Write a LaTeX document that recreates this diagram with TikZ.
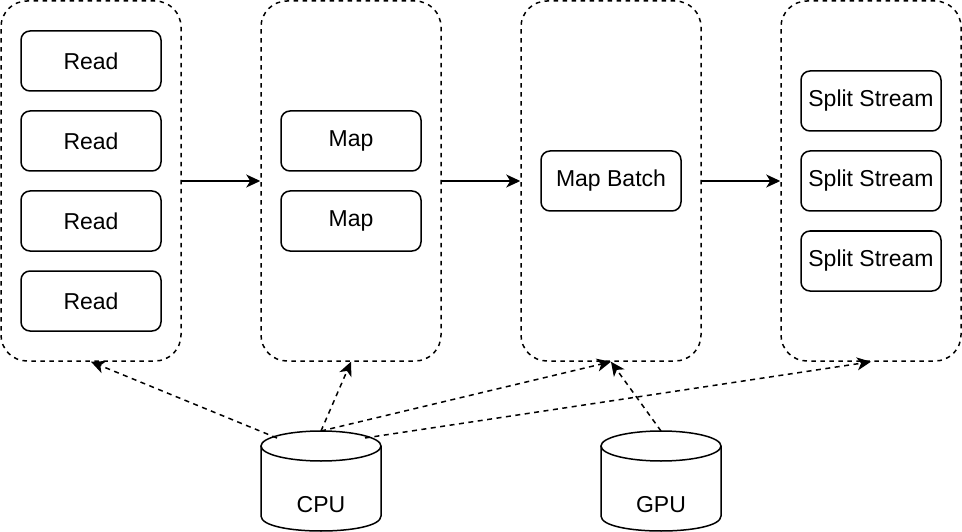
\documentclass[tikz,border=0pt]{standalone}
\usepackage{fontspec}
\setmainfont{Liberation Sans}
\usetikzlibrary{arrows.meta}
\begin{document}
\begin{tikzpicture}[x=1pt,y=-1pt,
  container/.style={draw, line width=1.5pt, dash pattern=on 4.5pt off 4.5pt, rounded corners=26pt, minimum width=180pt, minimum height=360pt, inner sep=0pt},
  proc/.style={draw, line width=1.5pt, rounded corners=9pt, minimum width=140pt, minimum height=60pt, inner sep=0pt, font=\fontsize{23}{27}\selectfont},
  flow/.style={line width=1.5pt, -{Stealth[length=14pt,width=13pt,inset=4pt]}},
  use/.style={line width=1.5pt, dash pattern=on 5pt off 4.5pt, -{Stealth[length=14pt,width=13pt,inset=4pt]}},
  lbl/.style={font=\fontsize{23}{27}\selectfont, inner sep=0pt},
  cyl/.style={line width=1.5pt}
]
\useasboundingbox (0,0) rectangle (962,532);
% containers
\node[container] (c1) at (91,181) {};
\node[container] (c2) at (351,181) {};
\node[container] (c3) at (611,181) {};
\node[container] (c4) at (871,181) {};
% read
\node[proc] (r1) at (91,61) {Read};
\node[proc] (r2) at (91,141) {Read};
\node[proc] (r3) at (91,221) {Read};
\node[proc] (r4) at (91,301) {Read};
% map
\node[proc] (m1) at (351,141) {Map};
\node[proc] (m2) at (351,221) {Map};
% map batch
\node[proc] (mb) at (611,181) {Map Batch};
% split
\node[proc] (s1) at (871,101) {Split Stream};
\node[proc] (s2) at (871,181) {Split Stream};
\node[proc] (s3) at (871,261) {Split Stream};
% flows
\draw[flow] (c1.east) -- (c2.west);
\draw[flow] (c2.east) -- (c3.west);
\draw[flow] (c3.east) -- (c4.west);
% cylinders
\foreach \n/\cx/\t in {cpu/321/CPU, gpu/661/GPU}{
  \draw[cyl] (\cx-60,446) -- (\cx-60,516) .. controls (\cx-60,536) and (\cx+60,536) .. (\cx+60,516) -- (\cx+60,446);
  \draw[cyl] (\cx,446) ellipse [x radius=60, y radius=15];
  \node[lbl] (\n) at (\cx,505) {\t};
  \coordinate (\n top) at (\cx,431);
}
\coordinate (cpul) at (277,438);
\coordinate (cpur) at (365,438);
% usage arrows
\draw[use] (cpul) -- (c1.south);
\draw[use] (cputop) -- (c2.south);
\draw[use] (cputop) -- (c3.south);
\draw[use] (cpur) -- (c4.south);
\draw[use] (gputop) -- (c3.south);
\end{tikzpicture}
\end{document}
